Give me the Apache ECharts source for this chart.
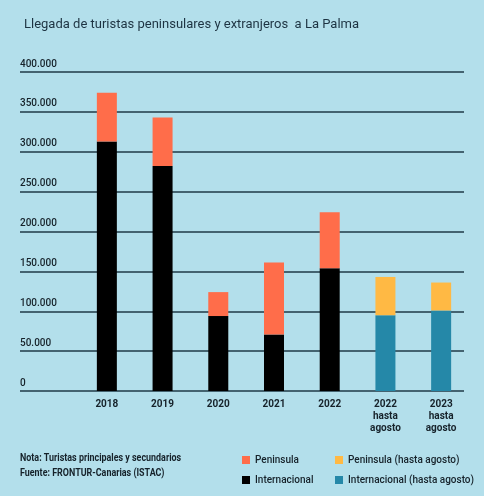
<!DOCTYPE html>
<html>
<head>
<meta charset="utf-8">
<script src="https://cdn.jsdelivr.net/npm/echarts@6/dist/echarts.min.js"></script>
<style>
html, body { margin: 0; padding: 0; background: #b3dfeb; }
#chart { width: 484px; height: 496px; }
</style>
</head>
<body>
<div id="chart"></div>
<script>
// datos
var years = ['2018', '2019', '2020', '2021', '2022', '2022\nhasta\nagosto', '2023\nhasta\nagosto'];
var internacional = [313000, 282000, 94000, 71000, 154000, '-', '-'];
var peninsula = [61000, 61000, 30000, 90000, 70000, '-', '-'];
var internacionalAgosto = ['-', '-', '-', '-', '-', 95000, 101000];
var peninsulaAgosto = ['-', '-', '-', '-', '-', 48000, 35000];
var yTicks = [0, 50000, 100000, 150000, 200000, 250000, 300000, 350000, 400000];

var font = 'Roboto, sans-serif';
var txt = '#16222a';
var chart = echarts.init(document.getElementById('chart'));

function fmt(v){
	return String(v).replace(/\B(?=(\d{3})+(?!\d))/g, '.');
}

function barSeries(name, data, color){
	return {
		name: name,
		type: 'bar',
		stack: 'total',
		xAxisIndex: 1,
		yAxisIndex: 1,
		barWidth: 20,
		itemStyle: { color: color },
		data: data
	};
}

var legendText = { fontFamily: font, fontSize: 10, fontWeight: 500, color: txt };

var option = {
	backgroundColor: '#b3dfeb',
	animation: false,
	title: {
		text: 'Llegada de turistas peninsulares y extranjeros  a La Palma',
		left: 19, top: 13,
		textStyle: { fontFamily: font, fontSize: 13, fontWeight: 'normal', color: '#1d3342' }
	},
	graphic: [{
		type: 'text', left: 20, top: 451, scaleX: 0.85,
		style: {
			text: 'Nota: Turistas principales y secundarios\nFuente: FRONTUR-Canarias (ISTAC)',
			fontFamily: font, fontSize: 10.5, fontWeight: 'bold', fill: txt, lineHeight: 15
		}
	}],
	legend: [{
		left: 237, top: 450, orient: 'vertical', itemGap: 10,
		itemWidth: 8, itemHeight: 8, icon: 'rect',
		textStyle: legendText,
		data: ['Peninsula', 'Internacional']
	}, {
		left: 330, top: 450, orient: 'vertical', itemGap: 10,
		itemWidth: 8, itemHeight: 8, icon: 'rect',
		textStyle: legendText,
		data: ['Peninsula (hasta agosto)', 'Internacional (hasta agosto)']
	}],
	grid: [
		{ left: 20, right: 20, top: 72, bottom: 105 },
		{ left: 79, right: 15, top: 72, bottom: 105 }
	],
	xAxis: [{
		gridIndex: 0, type: 'value', min: 0, max: 1, show: false
	}, {
		gridIndex: 1, type: 'category', data: years,
		axisLine: { show: false }, axisTick: { show: false },
		axisLabel: { fontFamily: font, fontSize: 10, fontWeight: 'bold', color: txt, margin: 7, lineHeight: 12 }
	}],
	yAxis: [{
		gridIndex: 0, type: 'value', min: 0, max: 400000, interval: 50000,
		axisLine: { show: false }, axisTick: { show: false },
		splitLine: { lineStyle: { color: '#1f3a47', width: 1.5 } },
		axisLabel: {
			inside: true, verticalAlign: 'bottom', align: 'left', margin: 0, padding: [0, 0, 3, 0],
			fontFamily: font, fontSize: 10, fontWeight: 500, color: txt,
			customValues: yTicks,
			formatter: fmt
		}
	}, {
		gridIndex: 1, type: 'value', min: 0, max: 400000, show: false
	}],
	series: [
		barSeries('Internacional', internacional, '#000000'),
		barSeries('Peninsula', peninsula, '#ff6d4a'),
		barSeries('Internacional (hasta agosto)', internacionalAgosto, '#2588a8'),
		barSeries('Peninsula (hasta agosto)', peninsulaAgosto, '#ffb944')
	]
};

chart.setOption(option);
</script>
</body>
</html>
